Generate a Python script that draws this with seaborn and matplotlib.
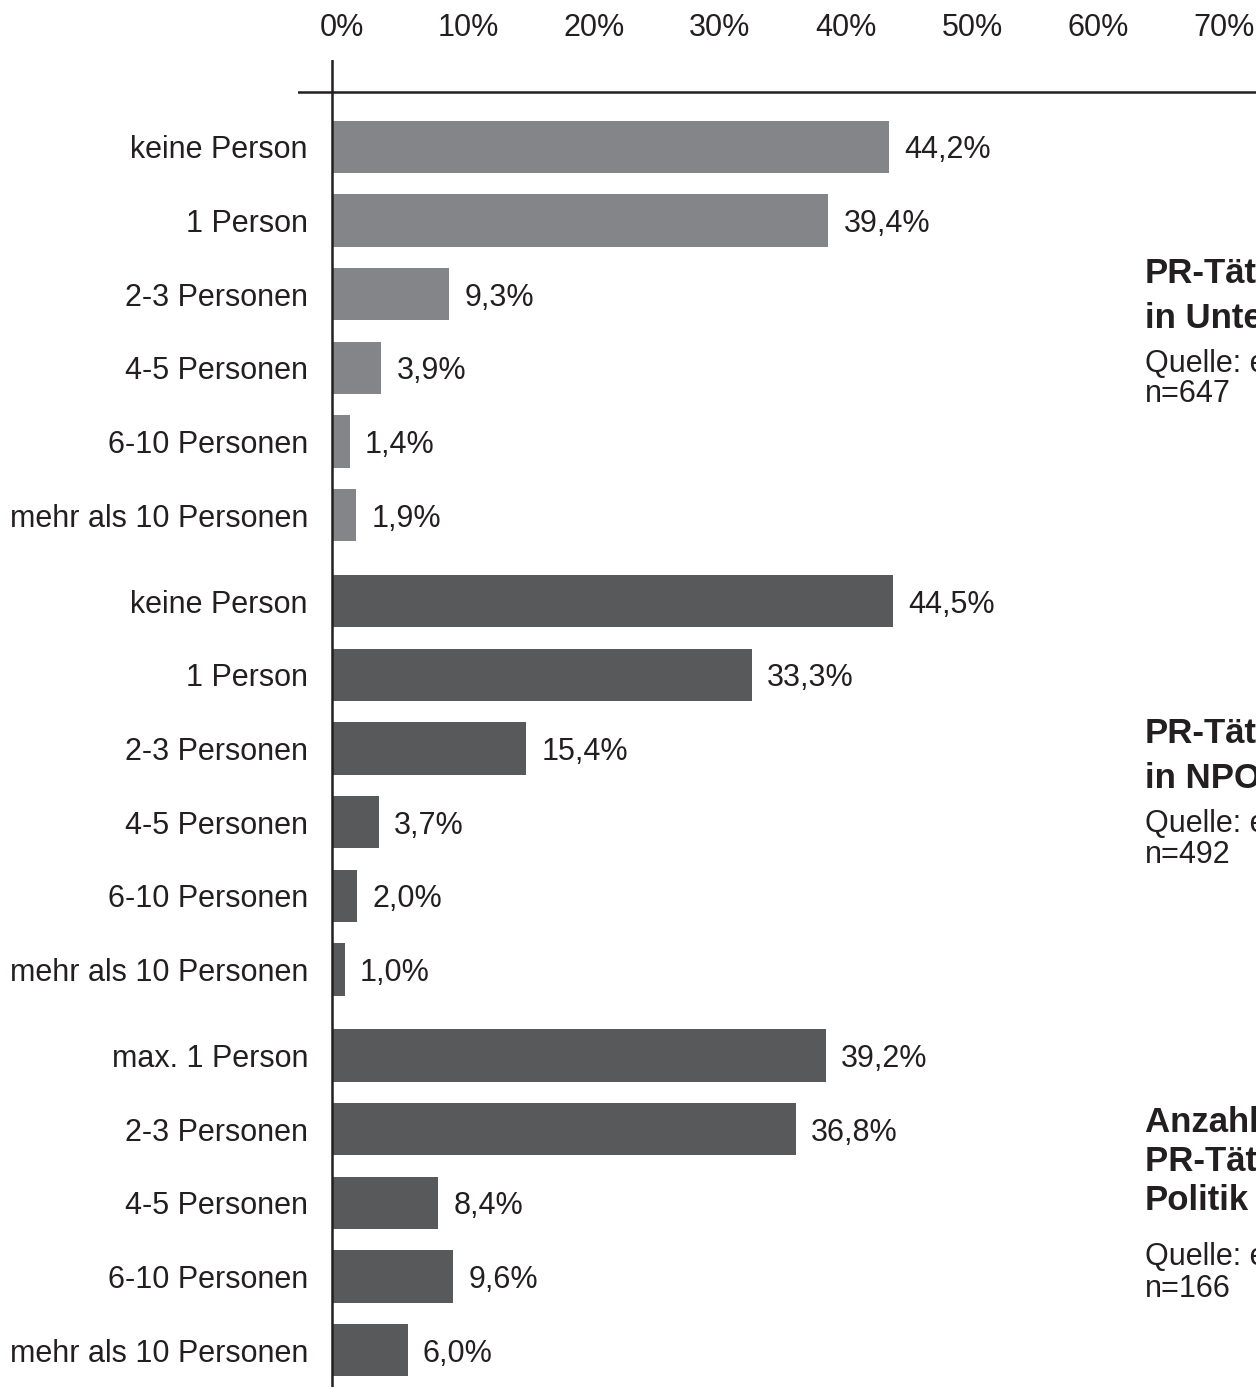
import matplotlib
matplotlib.use("Agg")
import matplotlib.pyplot as plt
from matplotlib.transforms import ScaledTranslation
import seaborn as sns
import pandas as pd

# data
labels_unt = ["keine Person", "1 Person", "2-3 Personen", "4-5 Personen",
              "6-10 Personen", "mehr als 10 Personen"]
values_unt = [44.2, 39.4, 9.3, 3.9, 1.4, 1.9]

labels_npo = ["keine Person", "1 Person", "2-3 Personen", "4-5 Personen",
              "6-10 Personen", "mehr als 10 Personen"]
values_npo = [44.5, 33.3, 15.4, 3.7, 2.0, 1.0]

labels_pol = ["max. 1 Person", "2-3 Personen", "4-5 Personen",
              "6-10 Personen", "mehr als 10 Personen"]
values_pol = [39.2, 36.8, 8.4, 9.6, 6.0]

groups = ["Unternehmen", "NPO", "Politik"]
group_colors = ["#848589", "#58595b", "#58595b"]

x_ticks = [0, 10, 20, 30, 40, 50, 60, 70]
x_ticklabels = ["0%", "10%", "20%", "30%", "40%", "50%", "60%", "70%"]

# side notes (text runs off the right edge in the original)
notes = [
    (["PR-Tätige", "in Unternehmen"], ["Quelle: eigene Erhebung", "n=647"],
     [283, 328], [372, 402]),
    (["PR-Tätige", "in NPOs"], ["Quelle: eigene Erhebung", "n=492"],
     [743, 788], [832, 863]),
    (["Anzahl der", "PR-Tätigen in der", "Politik"], ["Quelle: eigene Erhebung", "n=166"],
     [1132, 1171, 1210], [1265, 1297]),
]

GAP = 0.17  # extra space between the groups (in row units)

rows = []
idx = 0
for g, (labs, vals) in enumerate([(labels_unt, values_unt),
                                   (labels_npo, values_npo),
                                   (labels_pol, values_pol)]):
    for lab, v in zip(labs, vals):
        rows.append({"pos": idx + g * GAP, "label": lab, "value": v, "group": groups[g]})
        idx += 1
df = pd.DataFrame(rows)

sns.set_style("white")
plt.rcParams["font.family"] = ["Liberation Sans", "DejaVu Sans"]
FS = 22
plt.rcParams["font.size"] = FS
TXT = "#231f20"

W, H = 1256, 1387
fig = plt.figure(figsize=(W / 100, H / 100), dpi=100)
ax = fig.add_axes([298 / W, 0, (W - 298) / W, (H - 60) / H])

sns.barplot(data=df, x="value", y="pos", hue="group", orient="h",
            native_scale=True, dodge=False, palette=group_colors,
            saturation=1, width=0.71, linewidth=0, legend=False, ax=ax)

ax.set_xlim(-2.7, 73.33)
ax.set_ylim(16.84, -1.18)
for s in ax.spines.values():
    s.set_visible(False)
ax.axvline(0, color=TXT, lw=1.8)
ax.axhline(-0.75, color=TXT, lw=1.8)

ax.set_yticks(df["pos"])
ax.set_yticklabels(df["label"], color=TXT)
ax.tick_params(axis="y", length=0, pad=-7.2)

ax.xaxis.tick_top()
ax.set_xticks(x_ticks)
ax.set_xticklabels(x_ticklabels, color=TXT)
ax.tick_params(axis="x", length=0, pad=12)
shift = ScaledTranslation(10 / 100, 0, fig.dpi_scale_trans)
for t in ax.get_xticklabels():
    t.set_transform(t.get_transform() + shift)

ax.set_xlabel("")
ax.set_ylabel("")

for cont in ax.containers:
    labs = [f"{v:.1f}%".replace(".", ",") for v in cont.datavalues]
    anns = ax.bar_label(cont, labels=labs, padding=11, color=TXT, fontsize=FS)
    for a in anns:
        a.set_va("center_baseline")

for bold_lines, reg_lines, bold_y, reg_y in notes:
    for line, y in zip(bold_lines, bold_y):
        fig.text(1145 / W, 1 - y / H, line,
                 fontweight="bold", fontsize=25, color=TXT, va="baseline")
    for line, y in zip(reg_lines, reg_y):
        fig.text(1145 / W, 1 - y / H, line,
                 fontsize=22, color=TXT, va="baseline")

fig.savefig("out.png", dpi=100)
